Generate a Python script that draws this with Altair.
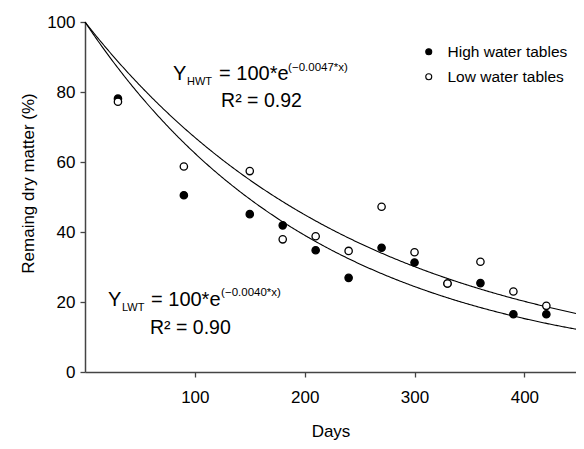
import altair as alt
import pandas as pd

FONT = "Liberation Sans, Arial, sans-serif"

# ---- data ----
days = [30, 90, 150, 180, 210, 240, 270, 300, 330, 360, 390, 420]
high_wt = [78.1, 50.5, 45.1, 41.9, 34.8, 26.9, 35.5, 31.3, 25.3, 25.4, 16.5, 16.5]
low_wt = [77.2, 58.7, 57.4, 37.9, 38.8, 34.6, 47.2, 34.2, 25.3, 31.5, 23.0, 18.9]
series_names = ["High water tables", "Low water tables"]

# fitted decay constants given in the chart's equations
k_hwt = 0.0047
k_lwt = 0.0040

x_ticks = [100, 200, 300, 400]
y_ticks = [0, 20, 40, 60, 80, 100]

ann_text = ["Y", "HWT", "= 100*e", "(\u22120.0047*x)", "R\u00b2 = 0.92",
            "Y", "LWT", "= 100*e", "(\u22120.0040*x)", "R\u00b2 = 0.90"]
ann_x = [80.2, 92.9, 122.1, 184.9, 123.9, 21.0, 33.7, 60.1, 123.9, 59.2]
ann_y = [83.4, 82.0, 83.4, 86.0, 75.6, 18.8, 17.4, 18.8, 21.6, 11.0]
ann_fs = [20, 11, 20, 11.5, 19.5, 20, 11, 20, 11.5, 19.5]

pts = pd.DataFrame({
    "Days": days + days,
    "Value": high_wt + low_wt,
    "series": [series_names[0]] * len(days) + [series_names[1]] * len(days),
})
ann = pd.DataFrame({"text": ann_text, "x": ann_x, "y": ann_y, "fs": ann_fs})

xs = alt.Scale(domain=[0, 447], nice=False, zero=False)
ys = alt.Scale(domain=[0, 100], nice=False)

x_axis = alt.Axis(values=x_ticks, title="Days", grid=False, labelFontSize=17,
                  titleFontSize=17, labelPadding=12, titleY=64,
                  titleBaseline="alphabetic", tickSize=5)
y_axis = alt.Axis(values=y_ticks, title="Remaing dry matter (%)", grid=False,
                  labelFontSize=17, titleFontSize=17, labelPadding=5, tickSize=5,
                  titleX=-52, titleY=161, titleAngle=270, titleAlign="center",
                  titleBaseline="alphabetic")

curves = alt.Chart(alt.sequence(0, 448, 1, as_="Days")).transform_calculate(
    hwt=f"100*exp(-{k_hwt}*datum.Days)",
    lwt=f"100*exp(-{k_lwt}*datum.Days)",
).transform_fold(["hwt", "lwt"], as_=["curve", "Value"])

lines = curves.mark_line(color="black", strokeWidth=1.1).encode(
    x=alt.X("Days:Q", scale=xs, axis=x_axis),
    y=alt.Y("Value:Q", scale=ys, axis=y_axis),
    detail="curve:N",
)

points = alt.Chart(pts).mark_point(
    shape="circle", filled=True, opacity=1, size=54, stroke="black", strokeWidth=1.3
).encode(
    x=alt.X("Days:Q", scale=xs),
    y=alt.Y("Value:Q", scale=ys),
    fill=alt.Fill("series:N",
                  scale=alt.Scale(domain=series_names, range=["black", "white"]),
                  legend=alt.Legend(title=None, orient="none", legendX=336, legendY=22,
                                    labelFontSize=15.5, labelFont=FONT, symbolSize=36,
                                    symbolStrokeColor="black", symbolStrokeWidth=1.1,
                                    symbolType="circle", rowPadding=8, labelOffset=11,
                                    padding=0, symbolOpacity=1)),
    order=alt.Order("order_idx:Q"),
).transform_calculate(order_idx="datum.series == 'High water tables' ? 0 : 1")

texts = alt.Chart(ann).mark_text(align="left", baseline="alphabetic", font=FONT,
                                 color="black").encode(
    x=alt.X("x:Q", scale=xs),
    y=alt.Y("y:Q", scale=ys),
    text="text:N",
    size=alt.Size("fs:Q", scale=None),
)

chart = alt.layer(lines, points, texts).properties(
    width=491, height=350,
    autosize=alt.AutoSizeParams(type="none"),
    padding={"left": 77, "top": 14, "right": 0, "bottom": 68},
).configure_view(stroke=None).configure_axis(
    domainColor="#444444", tickColor="#444444", domainWidth=1.5, tickWidth=1.3,
    labelColor="black", titleColor="black", labelFont=FONT, titleFont=FONT,
    titleFontWeight="normal",
)

chart.save("out.html", embed_options={"renderer": "svg", "actions": False})
